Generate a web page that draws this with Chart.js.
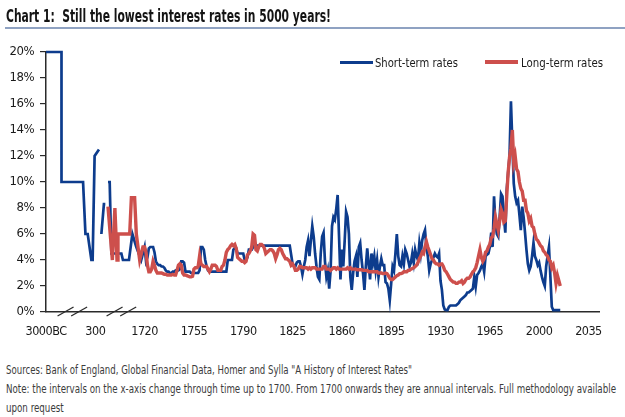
<!DOCTYPE html>
<html>
<head>
<meta charset="utf-8">
<script src="https://cdn.jsdelivr.net/npm/chart.js@4.4.1/dist/chart.umd.min.js"></script>
<style>
  html, body { margin: 0; padding: 0; background: #fff; width: 625px; height: 417px; overflow: hidden; }
  #wrap { position: relative; width: 625px; height: 417px; }
  #c { position: absolute; left: 0; top: 0; width: 625px; height: 350px; }
  .t { position: absolute; white-space: nowrap; transform-origin: 0 50%; line-height: 1; }
  .nar { font-family: 'Liberation Sans Narrow', 'Arial Narrow', 'DejaVu Sans Condensed', Arial, sans-serif; }
  .sw { position: absolute; }
</style>
</head>
<body>
<div id="wrap">
  <canvas id="c" width="625" height="350"></canvas>
  <div id="title" class="t nar" style="left:6px;top:8px;font-size:17px;font-weight:bold;color:#141414;">Chart 1:&nbsp; Still the lowest interest rates in 5000 years!</div>
  <div style="position:absolute;left:5px;top:27px;width:620px;height:1.5px;background:#8fa2c2;"></div>

  <div class="sw" id="swShort" style="left:340px;top:60.5px;width:33px;height:3px;"></div>
  <div id="lgShort" class="t nar" style="left:375px;top:55.5px;font-size:13px;color:#1a1a1a;"></div>
  <div class="sw" id="swLong" style="left:485px;top:60px;width:33px;height:4px;"></div>
  <div id="lgLong" class="t nar" style="left:521px;top:55.5px;font-size:13px;color:#1a1a1a;"></div>

  <div id="n1" class="t nar" style="left:6px;top:365px;font-size:11.5px;color:#3c3c3c;">Sources: Bank of England, Global Financial Data, Homer and Sylla "A History of Interest Rates"</div>
  <div id="n2" class="t nar" style="left:6px;top:384px;font-size:11.5px;color:#3c3c3c;">Note: the intervals on the x-axis change through time up to 1700. From 1700 onwards they are annual intervals. Full methodology available</div>
  <div id="n3" class="t nar" style="left:6px;top:403px;font-size:11.5px;color:#3c3c3c;">upon request</div>
</div>
<script>
// ---------------- DATA ----------------
const seriesNames = ['Short-term rates', 'Long-term rates'];
const tickLabels = ['3000BC', '300', '1720', '1755', '1790', '1825', '1860', '1895', '1930', '1965', '2000', '2035'];
const tickStep = 35;          // axis units between labelled ticks
const axisStart = 1650;       // axis position of the "3000BC" label
const axisEnd = 2042.5;
const axisBreaks = [1668.7, 1703.5]; // axis positions of the "//" breaks

// Pre-1720 (irregular intervals), x in axis units; null = gap
const earlyShortX = [1650, 1661, 1661, 1676.3, 1678, 1679.6, 1682.2, 1683.1, 1684.5, 1687.6, 1688.4, 1689.3, 1691.1, 1692.1, 1693, 1694, 1695.2, 1696.4, 1703.5, 1704.6, 1708.9, 1711.3, 1714.1, 1717.6];
const earlyShortY = [20, 20, 10, 10, 6, 6, 4, 4, 12, 12.5, null, 6, 8.3, 8.3, null, 10, 10, 4.5, 4.5, 4, 4, 6, 5, 4];
const earlyLongX = [1694, 1697.1, 1698.9, 1700.4, 1701.1, 1709.4, 1710.6, 1712.9, 1714.1, 1716.5, 1718.8];
const earlyLongY = [8.1, 4, 8, 4, 6, 6, 8.8, 8.8, 6, 4, 5];

// Annual data from 1720
const annualStart = 1720;
const shortRates = [
  5.0, 3.9, 4.2, 4.9, 5.0, 5.0, 5.0, 4.6, 3.9, 3.7,   // 1720s
  3.6, 3.6, 3.5, 3.5, 3.4, 3.2, 3.1, 3.1, 3.0, 3.0,   // 1730s
  3.1, 3.1, 3.2, 3.2, 3.2, 3.3, 3.9, 3.9, 3.8, 3.1,   // 1740s
  3.1, 3.1, 3.1, 3.0, 3.0, 3.0, 3.0, 3.0, 3.0, 3.2,   // 1750s
  5.0, 5.0, 4.8, 4.0, 3.5, 3.2, 3.1, 3.1, 3.1, 3.1,   // 1760s
  3.1, 3.1, 3.1, 3.1, 3.1, 3.1, 3.1, 3.1, 3.1, 4.0,   // 1770s
  4.0, 4.0, 4.0, 4.8, 4.9, 4.9, 4.5, 4.5, 4.5, 4.5,   // 1780s
  4.5, 4.0, 4.0, 4.2, 4.8, 4.8, 4.8, 5.0, 5.1, 5.1,   // 1790s
  5.1, 5.1, 5.1, 5.1, 5.1, 5.1, 5.1, 5.1, 5.1, 5.1,   // 1800s
  5.1, 5.1, 5.1, 5.1, 5.1, 5.1, 5.1, 5.1, 5.1, 5.1,   // 1810s
  5.1, 5.1, 5.1, 5.1, 4.4, 3.7, 3.6, 3.5, 3.8, 3.9,   // 1820s
  3.9, 3.5, 2.9, 3.5, 4.0, 5.0, 5.5, 4.3, 5.5, 6.6,   // 1830s
  5.8, 4.5, 3.5, 2.7, 2.5, 4.5, 5.8, 6.1, 3.9, 2.7,   // 1840s
  3.2, 1.8, 3.2, 6.6, 7.3, 7.1, 7.9, 9.0, 5.8, 2.5,   // 1850s
  4.8, 3.5, 5.5, 7.7, 7.3, 6.0, 2.7, 1.7, 3.0, 3.9,   // 1860s
  4.3, 2.7, 5.0, 5.3, 4.0, 3.0, 1.7, 3.5, 4.9, 3.7,   // 1870s
  2.5, 4.5, 3.7, 4.3, 3.2, 4.0, 2.7, 3.5, 4.1, 3.6,   // 1880s
  3.6, 2.3, 2.2, 1.8, 0.9, 2.2, 3.5, 3.2, 4.5, 6.0,   // 1890s
  4.3, 3.6, 3.5, 4.3, 3.7, 4.8, 4.5, 4.0, 3.5, 3.8,   // 1900s
  4.5, 3.8, 4.8, 4.3, 4.0, 5.3, 4.5, 5.5, 6.0, 6.3,   // 1910s
  5.0, 4.3, 3.2, 3.7, 4.0, 4.2, 4.5, 4.3, 4.2, 4.5,   // 1920s
  2.4, 1.7, 0.5, 0.2, 0.15, 0.15, 0.4, 0.5, 0.5, 0.5, // 1930s
  0.5, 0.5, 0.6, 0.7, 0.9, 1.0, 1.1, 1.2, 1.3, 1.5,   // 1940s
  1.5, 1.6, 1.7, 1.8, 2.7, 1.95, 2.85, 3.0, 3.2, 3.5, // 1950s
  3.7, 3.1, 4.3, 4.4, 4.5, 5.0, 6.1, 5.0, 8.9, 6.8,   // 1960s
  6.0, 5.8, 7.3, 9.1, 8.9, 7.3, 6.1, 9.4, 10.7, 12.0, // 1970s
  16.2, 13.0, 9.9, 8.9, 8.4, 8.6, 7.5, 6.3, 8.1, 7.3, // 1980s
  6.1, 4.8, 3.7, 3.2, 3.5, 4.3, 5.3, 4.3, 4.0, 3.6,   // 1990s
  3.8, 3.2, 2.7, 2.3, 2.0, 3.5, 4.3, 5.0, 2.7, 0.4,   // 2000s
  0.15, 0.15, 0.15, 0.15, 0.15, 0.15                  // 2010-2015
];
const longRates = [
  5.0, 4.6, 3.6, 3.1, 3.1, 3.3, 3.9, 3.6, 3.2, 3.0,   // 1720s
  3.0, 3.0, 3.0, 2.95, 2.9, 2.9, 2.85, 2.85, 2.85, 2.85, // 1730s
  2.9, 2.85, 2.85, 3.2, 3.6, 3.7, 3.6, 3.0, 2.85, 2.85,  // 1740s
  2.8, 2.75, 2.7, 2.7, 2.75, 3.3, 3.4, 3.4, 3.5, 4.3,  // 1750s
  3.7, 3.6, 3.5, 3.5, 3.5, 3.3, 3.1, 3.3, 3.6, 3.6,   // 1760s
  3.6, 3.5, 3.2, 3.2, 3.2, 3.5, 3.6, 4.0, 4.6, 4.8,   // 1770s
  4.9, 5.1, 5.2, 5.1, 5.2, 4.9, 4.2, 4.1, 4.0, 3.9,   // 1780s
  3.9, 3.8, 3.9, 4.4, 4.5, 4.7, 5.0, 6.0, 5.9, 4.8,   // 1790s
  4.7, 5.0, 5.2, 5.2, 5.1, 4.9, 4.5, 4.6, 4.7, 4.8,   // 1800s
  4.8, 4.7, 4.5, 4.1, 4.4, 4.8, 4.9, 4.8, 4.5, 4.3,   // 1810s
  4.1, 4.1, 4.0, 3.9, 3.6, 3.7, 3.5, 3.2, 3.2, 3.3,   // 1820s
  3.5, 3.5, 3.4, 3.4, 3.4, 3.4, 3.3, 3.4, 3.3, 3.4,   // 1830s
  3.4, 3.4, 3.3, 3.3, 3.3, 3.3, 3.3, 3.5, 3.5, 3.3,   // 1840s
  3.3, 3.3, 3.2, 3.3, 3.4, 3.4, 3.3, 3.4, 3.3, 3.3,   // 1850s
  3.3, 3.3, 3.3, 3.3, 3.4, 3.3, 3.4, 3.3, 3.3, 3.3,   // 1860s
  3.3, 3.25, 3.25, 3.25, 3.25, 3.2, 3.2, 3.2, 3.2, 3.1, // 1870s
  3.1, 3.1, 3.1, 3.1, 3.1, 3.1, 3.0, 3.0, 3.0, 2.95,  // 1880s
  2.95, 3.0, 2.95, 2.8, 2.6, 2.5, 2.5, 2.6, 2.7, 2.8, // 1890s
  2.85, 2.95, 2.95, 3.0, 3.1, 3.1, 3.1, 3.2, 3.2, 3.3, // 1900s
  3.35, 3.4, 3.5, 3.6, 3.8, 4.1, 4.3, 4.6, 4.5, 5.0,  // 1910s
  5.4, 5.0, 4.7, 4.4, 4.1, 4.0, 3.8, 3.7, 3.7, 3.6,   // 1920s
  3.7, 3.7, 3.5, 3.2, 3.1, 2.9, 2.7, 2.5, 2.4, 2.3,   // 1930s
  2.3, 2.2, 2.2, 2.3, 2.3, 2.4, 2.2, 2.3, 2.5, 2.6,   // 1940s
  2.6, 2.7, 2.9, 3.1, 3.2, 3.4, 3.8, 4.3, 4.8, 4.2,   // 1950s
  3.9, 4.1, 4.6, 4.7, 5.0, 5.2, 5.7, 5.8, 6.4, 7.3,   // 1960s
  6.8, 6.3, 7.0, 7.9, 7.6, 6.9, 7.0, 8.9, 10.7, 11.9, // 1970s
  12.6, 14.0, 11.5, 12.0, 11.0, 10.8, 10.0, 9.5, 9.3, 8.6, // 1980s
  8.6, 7.8, 7.6, 7.0, 7.2, 6.6, 6.5, 6.0, 5.6, 5.5,   // 1990s
  5.3, 5.1, 5.0, 4.7, 4.6, 4.4, 4.3, 4.0, 3.9, 3.4,   // 2000s
  3.6, 3.0, 2.2, 2.8, 2.4, 2.0                        // 2010-2015
];

// ---------------- STYLE ----------------
const BLUE = '#0d3c8d';
const RED = '#cd4f4c';
const AXIS = '#2a2a2a';
const FONT = "'Liberation Sans Narrow', 'Arial Narrow', 'DejaVu Sans Condensed', Arial, sans-serif";

function buildPoints(ex, ey, annual) {
  const pts = ex.map((x, i) => ({ x: x, y: ey[i] }));
  annual.forEach((v, i) => pts.push({ x: annualStart + i, y: v }));
  return pts;
}

const breakPlugin = {
  id: 'axisBreaks',
  afterDraw(chart) {
    const ctx = chart.ctx;
    const xs = chart.scales.x;
    const y0 = chart.chartArea.bottom;
    ctx.save();
    ctx.strokeStyle = AXIS;
    ctx.lineWidth = 1.3;
    axisBreaks.forEach(v => {
      const c = xs.getPixelForValue(v);
      [-6.8, 6.8].forEach(off => {
        ctx.beginPath();
        ctx.moveTo(c + off - 8, y0 + 4);
        ctx.lineTo(c + off + 8, y0 - 5);
        ctx.stroke();
      });
    });
    ctx.restore();
  }
};

// tighter letter spacing for the canvas tick labels (narrow look)
const narrowText = {
  id: 'narrowText',
  beforeDraw(chart) { chart.ctx.letterSpacing = '-0.5px'; },
  afterDraw(chart) { chart.ctx.letterSpacing = '0px'; }
};

Chart.defaults.font.family = FONT;
Chart.defaults.color = '#1a1a1a';

new Chart(document.getElementById('c'), {
  type: 'line',
  data: {
    datasets: [
      {
        label: seriesNames[0],
        data: buildPoints(earlyShortX, earlyShortY, shortRates),
        borderColor: BLUE,
        borderWidth: 2.7,
        pointRadius: 0,
        tension: 0,
        spanGaps: false,
        order: 2,
        clip: 6
      },
      {
        label: seriesNames[1],
        data: buildPoints(earlyLongX, earlyLongY, longRates),
        borderColor: RED,
        borderWidth: 3.4,
        pointRadius: 0,
        tension: 0,
        spanGaps: false,
        order: 1,
        clip: 6
      }
    ]
  },
  options: {
    responsive: false,
    maintainAspectRatio: false,
    animation: false,
    events: [],
    layout: { padding: { top: 52, right: 26, bottom: 4, left: 0 } },
    plugins: { legend: { display: false }, tooltip: { enabled: false }, title: { display: false } },
    scales: {
      x: {
        type: 'linear',
        min: axisStart,
        max: axisEnd,
        afterFit(s) { s.height = 34; },
        afterBuildTicks(s) { s.ticks = tickLabels.map((_, i) => ({ value: axisStart + i * tickStep })); },
        ticks: {
          autoSkip: false,
          maxRotation: 0,
          padding: 12,
          font: { size: 12.5 },
          color: '#1a1a1a',
          callback: (v, i) => tickLabels[i]
        },
        grid: { display: true, drawOnChartArea: false, drawTicks: false },
        border: { display: true, color: AXIS, width: 1.5 }
      },
      y: {
        min: 0,
        max: 20,
        afterFit(s) { s.width = 46; },
        ticks: {
          stepSize: 2,
          padding: 6,
          font: { size: 13 },
          color: '#1a1a1a',
          callback: v => v + '%'
        },
        grid: { display: true, drawOnChartArea: false, drawTicks: true, tickLength: 6, color: AXIS, lineWidth: 1.2 },
        border: { display: true, color: AXIS, width: 1.5 }
      }
    }
  },
  plugins: [narrowText, breakPlugin]
});

// ---------------- HTML texts ----------------
document.getElementById('swShort').style.background = BLUE;
document.getElementById('swLong').style.background = RED;
document.getElementById('lgShort').textContent = seriesNames[0];
document.getElementById('lgLong').textContent = seriesNames[1];

function fit(id, w) {
  const el = document.getElementById(id);
  el.style.transform = 'none';
  const r = el.getBoundingClientRect().width;
  const k = w / r;
  el.style.transform = 'scaleX(' + k + ')';
  return k;
}
function fitAll() {
  fit('title', 325);
  fit('lgShort', 83);
  fit('lgLong', 82);
  fit('n1', 406);
  const k = fit('n2', 610);
  document.getElementById('n3').style.transform = 'scaleX(' + k + ')';
}
fitAll();
if (document.fonts && document.fonts.ready) document.fonts.ready.then(fitAll);
</script>
</body>
</html>
